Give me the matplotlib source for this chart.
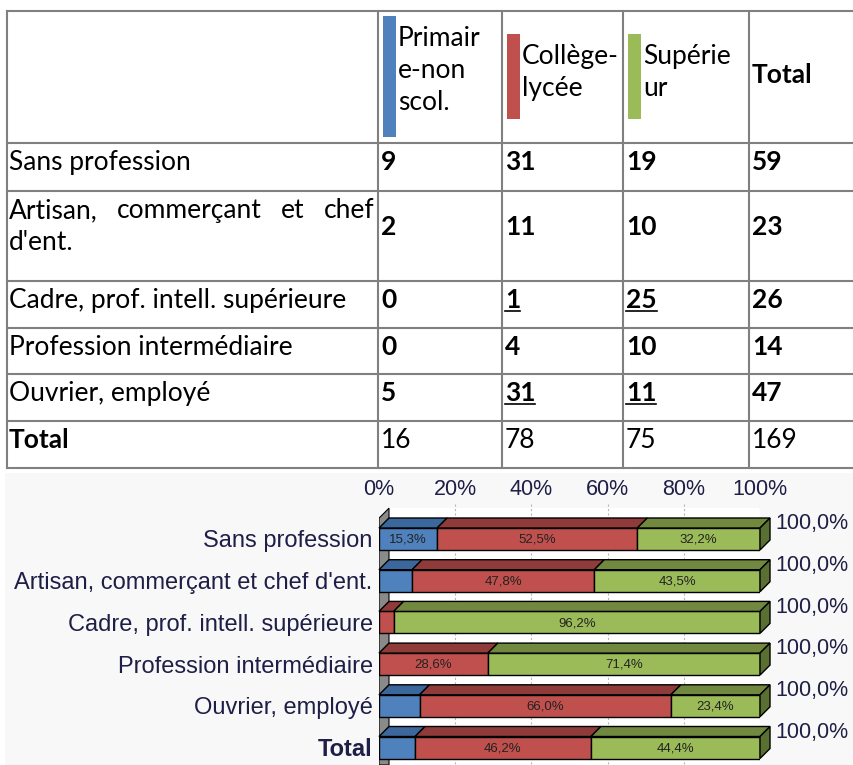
import matplotlib
matplotlib.use("Agg")
import matplotlib.pyplot as plt
from matplotlib.patches import Rectangle, Polygon

categories = ["Sans profession", "Artisan, commerçant et chef d'ent.",
              "Cadre, prof. intell. supérieure", "Profession intermédiaire",
              "Ouvrier, employé", "Total"]
primaire = [9, 2, 0, 0, 5, 16]
college = [31, 11, 1, 4, 31, 78]
superieur = [19, 10, 25, 10, 11, 75]
totals = [59, 23, 26, 14, 47, 169]
header_lines = [["Primair", "e-non", "scol."], ["Collège-", "lycée"], ["Supérie", "ur"]]
underlined = [(2, 1), (2, 2), (4, 1), (4, 2)]   # (row, series) shown underlined
pct_ticks = [0, 20, 40, 60, 80, 100]

front = ["#4f81bd", "#c0504d", "#9bbb59"]
topc = ["#3c679c", "#8e3b39", "#71893f"]
sidec = "#5a7032"

W, H = 854, 765
fig = plt.figure(figsize=(W / 100, H / 100), dpi=100)
fig.patch.set_facecolor("white")
tab = fig.add_axes([0, 0, 1, 1])
tab.set_xlim(0, W)
tab.set_ylim(H, 0)
tab.axis("off")
renderer = fig.canvas.get_renderer()

# ---------------- table ----------------
TF = 19
tfont = dict(family="Lato", fontsize=TF, color="black")
col_x = [7, 378, 502, 623, 749]
row_y = [11, 143, 191, 281, 328, 374, 421, 468]
grid = "#808080"
for y in row_y:
    tab.plot([7, 860], [y, y], color=grid, lw=1.5, clip_on=False)
for x in col_x:
    tab.plot([x, x], [11, 468], color=grid, lw=1.5)

# header: colour keys + wrapped series names
key_top = [16, 34, 34]
key_bot = [137, 119, 119]
for j in range(3):
    x = col_x[j + 1]
    tab.add_patch(Rectangle((x + 5, key_top[j]), 13, key_bot[j] - key_top[j],
                            color=front[j], lw=0))
    for k, line in enumerate(header_lines[j]):
        tab.text(x + 20, key_top[j] + 30 + 32 * k, line, va="baseline", **tfont)
tab.text(col_x[4] + 3, 83, "Total", va="baseline", fontweight="bold", **tfont)


def justify(words, x0, x1, y):
    ts = [tab.text(0, y, w, va="baseline", **tfont) for w in words]
    ws = [t.get_window_extent(renderer).width for t in ts]
    gap = (x1 - x0 - sum(ws)) / (len(ws) - 1)
    x = x0
    for t, w in zip(ts, ws):
        t.set_x(x)
        x += w + gap


values = list(zip(primaire, college, superieur, totals))
for i, cat in enumerate(categories):
    top = row_y[i + 1]
    base = top + 27
    bold = "bold" if cat == "Total" else "normal"
    if i == 1:
        words = cat.split(" ")
        justify(words[:4], 9, 375, base)
        tab.text(9, base + 32, " ".join(words[4:]), va="baseline", **tfont)
        nbase = base + 17
    else:
        tab.text(9, base, cat, va="baseline", fontweight=bold, **tfont)
        nbase = base
    for j, v in enumerate(values[i]):
        wt = "normal" if cat == "Total" else "bold"
        t = tab.text(col_x[j + 1] + 3, nbase, str(v), va="baseline", fontweight=wt, **tfont)
        if (i, j) in underlined:
            bb = t.get_window_extent(renderer)
            tab.plot([bb.x0, bb.x1], [nbase + 3, nbase + 3], color="black", lw=1.2)

# ---------------- 3D-look stacked bar chart ----------------
tab.add_patch(Rectangle((5, 473), W, H - 473, color="#f8f8f8", lw=0, zorder=0))

x0px, x1px = 379, 760
row0, step = 539, 41.7
ylo = (H - row0) / step
yhi = -0.9
ax = fig.add_axes([x0px / W, 0, (x1px - x0px) / W, (H - (row0 + yhi * step)) / H])
ax.set_xlim(0, 100)
ax.set_ylim(ylo, yhi)
ax.patch.set_alpha(0)
for s in ax.spines.values():
    s.set_visible(False)

dx = 10 / ((x1px - x0px) / 100)
dy = 10 / step
hb = 22 / step
wall_front = -0.5
ax.add_patch(Rectangle((dx, wall_front - dy), 100 - dx, ylo - wall_front + dy,
                       color="white", lw=0, zorder=0))
for t in pct_ticks[1:]:
    ax.plot([t, t], [wall_front - dy - 0.1, ylo], color="#b8b8b8", lw=0.8,
            ls=(0, (2, 2)), zorder=1)
ax.add_patch(Polygon([(0, wall_front), (dx, wall_front - dy), (dx, ylo), (0, ylo)],
                     facecolor="#8a8a8a", edgecolor="black", lw=0.8, zorder=2))

series = [primaire, college, superieur]
lab = dict(family="Liberation Sans", color="#1e1e46")
for i in range(len(categories)):
    left = 0
    pcts = [series[j][i] / totals[i] * 100 for j in range(3)]
    yt = i - hb / 2
    for j, p in enumerate(pcts):
        if p <= 0:
            continue
        ax.barh(i, p, left=left, height=hb, color=front[j], edgecolor="black",
                lw=1, zorder=3)
        ax.add_patch(Polygon([(left, yt), (left + p, yt), (left + p + dx, yt - dy),
                              (left + dx, yt - dy)], facecolor=topc[j],
                             edgecolor="black", lw=1, zorder=3, clip_on=False))
        if p >= 12:
            ax.text(left + p / 2, i + 0.02, f"{p:.1f}%".replace(".", ","), ha="center",
                    va="center", fontsize=9.5, family="Liberation Sans",
                    color="#222222", zorder=4)
        left += p
    ax.add_patch(Polygon([(left, yt), (left + dx, yt - dy), (left + dx, yt - dy + hb),
                          (left, yt + hb)], facecolor=sidec, edgecolor="black",
                         lw=1, zorder=3, clip_on=False))
    ax.text(left + dx + 1.3, yt - dy / 2 + 0.02, f"{sum(pcts):.1f}%".replace(".", ","),
            va="center", fontsize=15.5, clip_on=False, **lab)

ax.set_yticks(range(len(categories)), categories)
for tl in ax.get_yticklabels():
    tl.set_family("Liberation Sans")
    tl.set_fontsize(17)
    tl.set_color("#1e1e46")
    if tl.get_text() == "Total":
        tl.set_fontweight("bold")
ax.tick_params(axis="y", length=0, pad=4.5)
ax.xaxis.tick_top()
ax.set_xticks(pct_ticks, [f"{t}%" for t in pct_ticks])
ax.tick_params(axis="x", length=0, pad=1, labelsize=15.5, labelcolor="#1e1e46")
for tl in ax.get_xticklabels():
    tl.set_family("Liberation Sans")

fig.savefig("out.png", dpi=100, facecolor="white")
